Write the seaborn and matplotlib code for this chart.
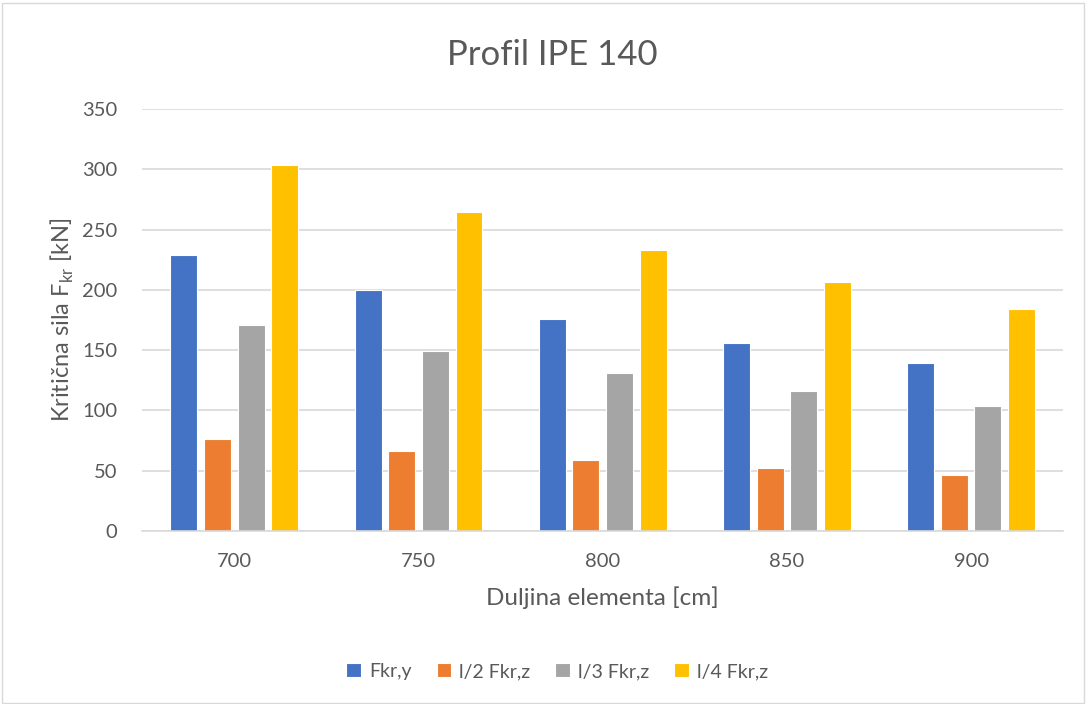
import numpy as np
import pandas as pd
import matplotlib
matplotlib.use("Agg")
import matplotlib.pyplot as plt
import seaborn as sns

# values
duljina = ["700", "750", "800", "850", "900"]
fkr_y = [229, 199.5, 175.5, 155.5, 139]
l2_fkr_z = [76, 66.5, 58.5, 52, 46]
l3_fkr_z = [171, 149, 131, 116, 103.5]
l4_fkr_z = [304, 265, 233, 206.5, 184]

serije = ["Fkr,y", "l/2 Fkr,z", "l/3 Fkr,z", "l/4 Fkr,z"]
boje = ["#4472C4", "#ED7D31", "#A5A5A5", "#FFC000"]

df = pd.DataFrame({
    "duljina": duljina * 4,
    "sila": fkr_y + l2_fkr_z + l3_fkr_z + l4_fkr_z,
    "serija": [s for s in serije for _ in duljina],
})

sns.set_style("white")
plt.rcParams["font.family"] = ["Lato", "DejaVu Sans"]
plt.rcParams["mathtext.fontset"] = "custom"
plt.rcParams["mathtext.rm"] = "Lato"

fig = plt.figure(figsize=(10.86, 7.04), dpi=100)
ax = fig.add_axes([0.131, 0.246, 0.848, 0.599])

sns.barplot(data=df, x="duljina", y="sila", hue="serija", palette=boje,
            width=0.73, gap=0.2, edgecolor="white", linewidth=0.8,
            saturation=1, ax=ax)

ax.set_ylim(0, 350)
ax.set_yticks(np.arange(0, 351, 50))
ax.yaxis.grid(True, color="#D9D9D9", linewidth=1.2)
ax.set_axisbelow(True)
for s in ["top", "right", "left"]:
    ax.spines[s].set_visible(False)
ax.spines["bottom"].set_color("#D9D9D9")
ax.spines["bottom"].set_linewidth(1.2)
ax.tick_params(axis="both", length=0, labelsize=14.5, labelcolor="#595959")
ax.tick_params(axis="y", pad=18)
ax.tick_params(axis="x", pad=16)

ax.set_xlabel("Duljina elementa [cm]", fontsize=17.5, color="#595959", labelpad=12)
ax.set_ylabel(r"Kritična sila F$_{\mathrm{kr}}$ [kN]", fontsize=17, color="#595959", labelpad=4)
fig.text(0.509, 0.922, "Profil IPE 140", ha="center", va="center",
         fontsize=25, color="#595959")

handles, labels = ax.get_legend_handles_labels()
ax.legend_.remove()
fig.legend(handles, labels, loc="center", bbox_to_anchor=(0.513, 0.046), ncol=4,
           frameon=False, fontsize=14, labelcolor="#595959", handlelength=0.75,
           handleheight=0.75, handletextpad=0.4, columnspacing=1.3)

fig.patches.append(plt.Rectangle((0.002, 0.002), 0.996, 0.994, transform=fig.transFigure,
                                 fill=False, edgecolor="#D9D9D9", linewidth=1))

fig.savefig("out.png", dpi=100, facecolor="white")
